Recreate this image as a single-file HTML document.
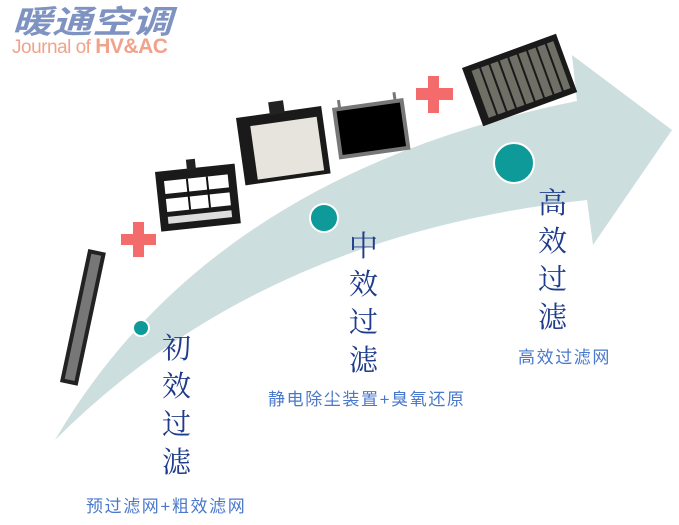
<!DOCTYPE html>
<html><head><meta charset="utf-8"><style>
body{margin:0;width:679px;height:525px;background:#fff;overflow:hidden;position:relative;font-family:"Liberation Sans","Noto Sans CJK SC",sans-serif}
.t{position:absolute;font-family:"Liberation Serif","Noto Serif CJK SC",serif;color:#1f3c8c;font-size:29px;line-height:38px;width:32px}
.s{position:absolute;color:#4a78cc;font-size:17px;letter-spacing:1.6px}
</style></head><body>
<svg width="679" height="525" style="position:absolute;left:0;top:0">
<path d="M55,440 Q210,175 577,101 L572,55 L672,130 L593,245 L587,200 Q260,235 55,440 Z" fill="#cddede"/>
<g transform="translate(60,382) rotate(-78)"><rect x="0" y="0" width="136" height="18" fill="#222"/><rect x="4" y="4" width="128" height="10" fill="#777"/></g>
<g fill="#f46b6b"><rect x="133" y="222" width="11" height="35"/><rect x="121" y="234" width="35" height="11"/>
<rect x="428" y="76" width="11" height="37"/><rect x="416" y="88" width="37" height="12"/></g>
<g transform="translate(155,172) rotate(-6)"><rect x="0" y="0" width="80" height="60" fill="#1a1a1a"/><rect x="8" y="10" width="64" height="13" fill="#fff"/><rect x="8" y="28" width="64" height="13" fill="#fff"/><rect x="8" y="46" width="64" height="7" fill="#ddd"/><rect x="30" y="10" width="2" height="31" fill="#111"/><rect x="50" y="10" width="2" height="31" fill="#111"/><rect x="32" y="-9" width="9" height="11" fill="#222"/></g>
<g transform="translate(236,118) rotate(-8)"><rect x="0" y="0" width="86" height="68" fill="#1a1a1a"/><rect x="13" y="10" width="67" height="54" fill="#e6e4dc"/><rect x="34" y="-11" width="15" height="13" fill="#222"/></g>
<g transform="translate(332,108) rotate(-8)"><rect x="0" y="0" width="72" height="52" fill="#777"/><rect x="4" y="4" width="64" height="44" fill="#000"/><rect x="6" y="-7" width="3" height="8" fill="#777"/><rect x="62" y="-7" width="3" height="8" fill="#777"/></g>
<g transform="translate(462,68) rotate(-20)"><rect x="0" y="0" width="100" height="62" fill="#1a1a1a"/><g fill="#6f6f66"><rect x="8" y="6" width="8" height="50"/><rect x="18" y="6" width="8" height="50"/><rect x="28" y="6" width="8" height="50"/><rect x="38" y="6" width="8" height="50"/><rect x="48" y="6" width="8" height="50"/><rect x="58" y="6" width="8" height="50"/><rect x="68" y="6" width="8" height="50"/><rect x="78" y="6" width="8" height="50"/><rect x="88" y="6" width="7" height="50"/></g></g>
<circle cx="141" cy="328" r="8" fill="#0e9a98" stroke="#fff" stroke-width="2"/>
<circle cx="324" cy="218" r="14" fill="#0e9a98" stroke="#fff" stroke-width="2"/>
<circle cx="514" cy="163" r="20" fill="#0e9a98" stroke="#fff" stroke-width="2"/>
</svg>
<div style="position:absolute;left:12px;top:4px;font-size:32px;font-weight:bold;font-style:italic;color:#7f93c2;transform:scaleX(1.25);transform-origin:left top;line-height:36px">暖通空调</div>
<div style="position:absolute;left:12px;top:36px;font-size:19px;color:#f0a38a;letter-spacing:-0.5px;line-height:22px">Journal of <b style="font-size:21px">HV&amp;AC</b></div>
<div class="t" style="left:162px;top:330px">初效过滤</div>
<div class="t" style="left:349px;top:228px">中效过滤</div>
<div class="t" style="left:538px;top:185px">高效过滤</div>
<div class="s" style="left:86px;top:492px">预过滤网+粗效滤网</div>
<div class="s" style="left:268px;top:385px">静电除尘装置+臭氧还原</div>
<div class="s" style="left:518px;top:343px">高效过滤网</div>
</body></html>
